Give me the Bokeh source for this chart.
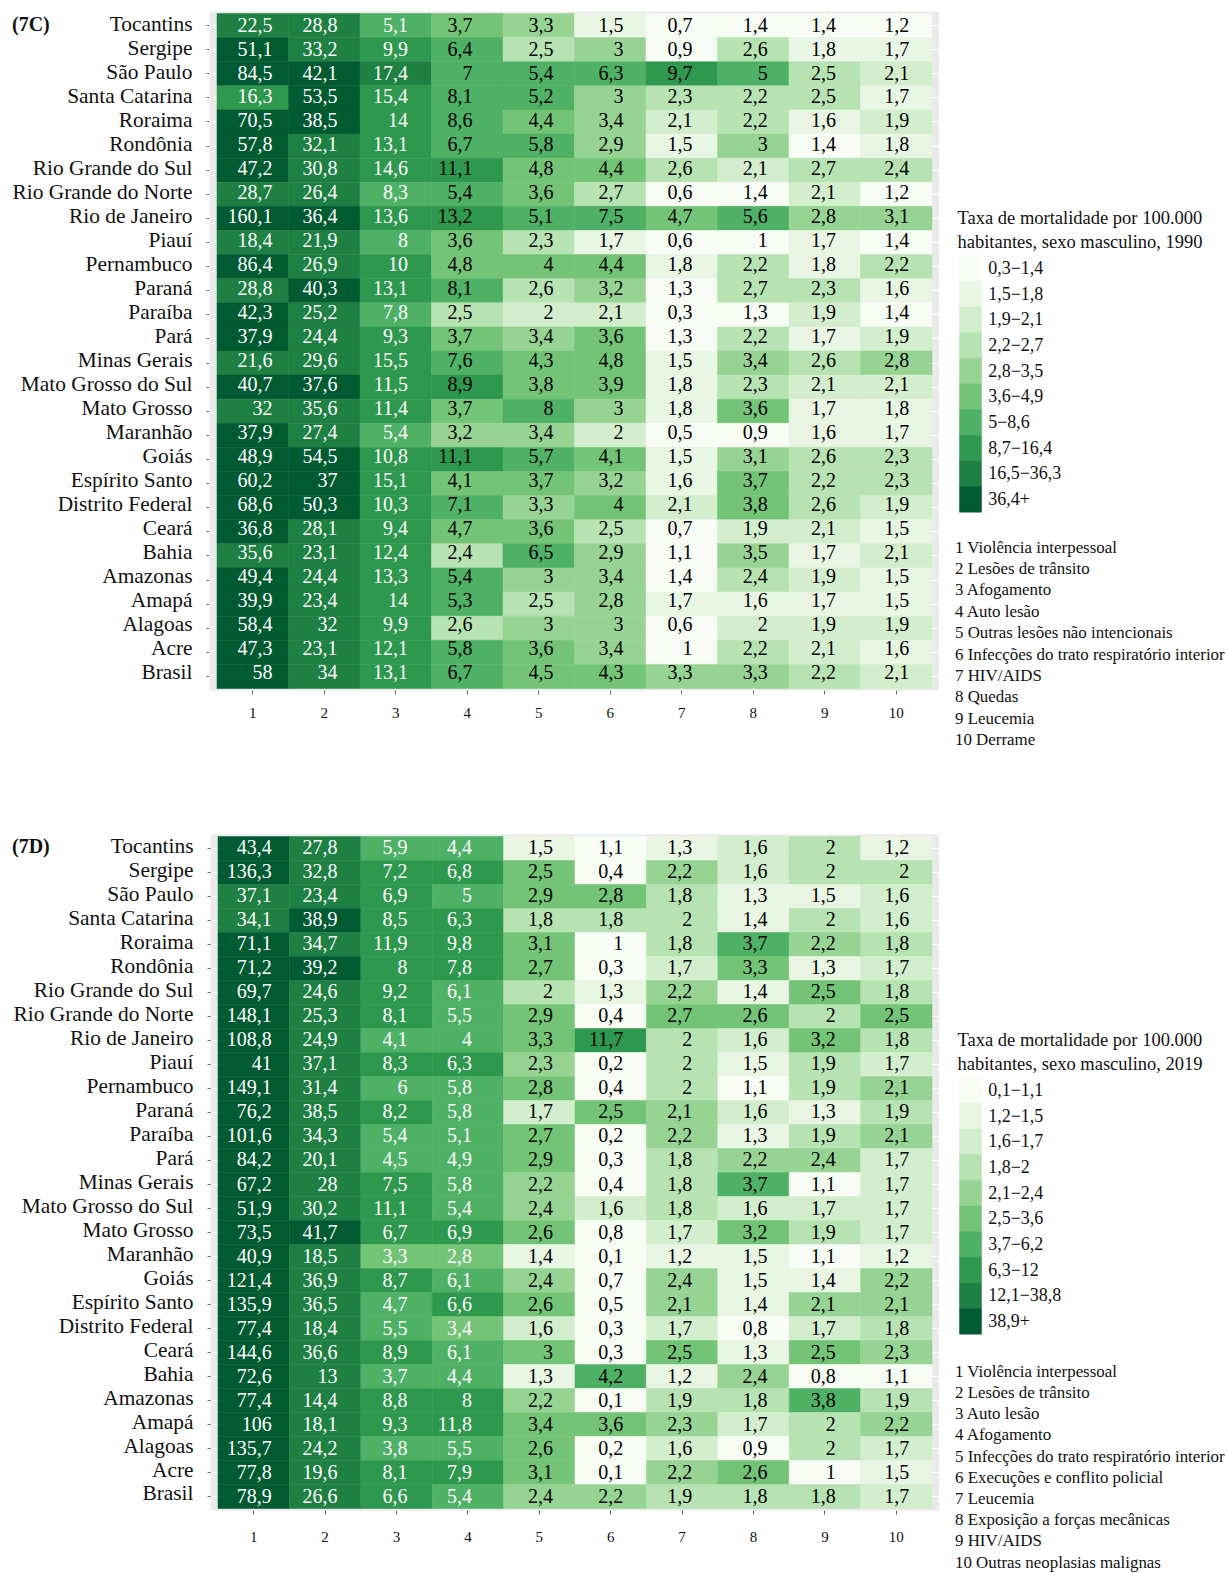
from bokeh.plotting import figure
from bokeh.layouts import column, row
from bokeh.models import ColumnDataSource, FactorRange, FixedTicker, Range1d
from bokeh.core.properties import value
from bokeh.embed import file_html
from bokeh.resources import INLINE
import numpy as np
import pandas as pd

FONT = "Liberation Serif"
INK = "#111111"

states = ["Tocantins", "Sergipe", "São Paulo", "Santa Catarina", "Roraima", "Rondônia",
          "Rio Grande do Sul", "Rio Grande do Norte", "Rio de Janeiro", "Piauí", "Pernambuco",
          "Paraná", "Paraíba", "Pará", "Minas Gerais", "Mato Grosso do Sul", "Mato Grosso",
          "Maranhão", "Goiás", "Espírito Santo", "Distrito Federal", "Ceará", "Bahia",
          "Amazonas", "Amapá", "Alagoas", "Acre", "Brasil"]
columns = [str(i) for i in range(1, 11)]

# values by state, same order as states
rates_1990 = [
    [22.5, 28.8, 5.1, 3.7, 3.3, 1.5, 0.7, 1.4, 1.4, 1.2],
    [51.1, 33.2, 9.9, 6.4, 2.5, 3, 0.9, 2.6, 1.8, 1.7],
    [84.5, 42.1, 17.4, 7, 5.4, 6.3, 9.7, 5, 2.5, 2.1],
    [16.3, 53.5, 15.4, 8.1, 5.2, 3, 2.3, 2.2, 2.5, 1.7],
    [70.5, 38.5, 14, 8.6, 4.4, 3.4, 2.1, 2.2, 1.6, 1.9],
    [57.8, 32.1, 13.1, 6.7, 5.8, 2.9, 1.5, 3, 1.4, 1.8],
    [47.2, 30.8, 14.6, 11.1, 4.8, 4.4, 2.6, 2.1, 2.7, 2.4],
    [28.7, 26.4, 8.3, 5.4, 3.6, 2.7, 0.6, 1.4, 2.1, 1.2],
    [160.1, 36.4, 13.6, 13.2, 5.1, 7.5, 4.7, 5.6, 2.8, 3.1],
    [18.4, 21.9, 8, 3.6, 2.3, 1.7, 0.6, 1, 1.7, 1.4],
    [86.4, 26.9, 10, 4.8, 4, 4.4, 1.8, 2.2, 1.8, 2.2],
    [28.8, 40.3, 13.1, 8.1, 2.6, 3.2, 1.3, 2.7, 2.3, 1.6],
    [42.3, 25.2, 7.8, 2.5, 2, 2.1, 0.3, 1.3, 1.9, 1.4],
    [37.9, 24.4, 9.3, 3.7, 3.4, 3.6, 1.3, 2.2, 1.7, 1.9],
    [21.6, 29.6, 15.5, 7.6, 4.3, 4.8, 1.5, 3.4, 2.6, 2.8],
    [40.7, 37.6, 11.5, 8.9, 3.8, 3.9, 1.8, 2.3, 2.1, 2.1],
    [32, 35.6, 11.4, 3.7, 8, 3, 1.8, 3.6, 1.7, 1.8],
    [37.9, 27.4, 5.4, 3.2, 3.4, 2, 0.5, 0.9, 1.6, 1.7],
    [48.9, 54.5, 10.8, 11.1, 5.7, 4.1, 1.5, 3.1, 2.6, 2.3],
    [60.2, 37, 15.1, 4.1, 3.7, 3.2, 1.6, 3.7, 2.2, 2.3],
    [68.6, 50.3, 10.3, 7.1, 3.3, 4, 2.1, 3.8, 2.6, 1.9],
    [36.8, 28.1, 9.4, 4.7, 3.6, 2.5, 0.7, 1.9, 2.1, 1.5],
    [35.6, 23.1, 12.4, 2.4, 6.5, 2.9, 1.1, 3.5, 1.7, 2.1],
    [49.4, 24.4, 13.3, 5.4, 3, 3.4, 1.4, 2.4, 1.9, 1.5],
    [39.9, 23.4, 14, 5.3, 2.5, 2.8, 1.7, 1.6, 1.7, 1.5],
    [58.4, 32, 9.9, 2.6, 3, 3, 0.6, 2, 1.9, 1.9],
    [47.3, 23.1, 12.1, 5.8, 3.6, 3.4, 1, 2.2, 2.1, 1.6],
    [58, 34, 13.1, 6.7, 4.5, 4.3, 3.3, 3.3, 2.2, 2.1],
]
rates_2019 = [
    [43.4, 27.8, 5.9, 4.4, 1.5, 1.1, 1.3, 1.6, 2, 1.2],
    [136.3, 32.8, 7.2, 6.8, 2.5, 0.4, 2.2, 1.6, 2, 2],
    [37.1, 23.4, 6.9, 5, 2.9, 2.8, 1.8, 1.3, 1.5, 1.6],
    [34.1, 38.9, 8.5, 6.3, 1.8, 1.8, 2, 1.4, 2, 1.6],
    [71.1, 34.7, 11.9, 9.8, 3.1, 1, 1.8, 3.7, 2.2, 1.8],
    [71.2, 39.2, 8, 7.8, 2.7, 0.3, 1.7, 3.3, 1.3, 1.7],
    [69.7, 24.6, 9.2, 6.1, 2, 1.3, 2.2, 1.4, 2.5, 1.8],
    [148.1, 25.3, 8.1, 5.5, 2.9, 0.4, 2.7, 2.6, 2, 2.5],
    [108.8, 24.9, 4.1, 4, 3.3, 11.7, 2, 1.6, 3.2, 1.8],
    [41, 37.1, 8.3, 6.3, 2.3, 0.2, 2, 1.5, 1.9, 1.7],
    [149.1, 31.4, 6, 5.8, 2.8, 0.4, 2, 1.1, 1.9, 2.1],
    [76.2, 38.5, 8.2, 5.8, 1.7, 2.5, 2.1, 1.6, 1.3, 1.9],
    [101.6, 34.3, 5.4, 5.1, 2.7, 0.2, 2.2, 1.3, 1.9, 2.1],
    [84.2, 20.1, 4.5, 4.9, 2.9, 0.3, 1.8, 2.2, 2.4, 1.7],
    [67.2, 28, 7.5, 5.8, 2.2, 0.4, 1.8, 3.7, 1.1, 1.7],
    [51.9, 30.2, 11.1, 5.4, 2.4, 1.6, 1.8, 1.6, 1.7, 1.7],
    [73.5, 41.7, 6.7, 6.9, 2.6, 0.8, 1.7, 3.2, 1.9, 1.7],
    [40.9, 18.5, 3.3, 2.8, 1.4, 0.1, 1.2, 1.5, 1.1, 1.2],
    [121.4, 36.9, 8.7, 6.1, 2.4, 0.7, 2.4, 1.5, 1.4, 2.2],
    [135.9, 36.5, 4.7, 6.6, 2.6, 0.5, 2.1, 1.4, 2.1, 2.1],
    [77.4, 18.4, 5.5, 3.4, 1.6, 0.3, 1.7, 0.8, 1.7, 1.8],
    [144.6, 36.6, 8.9, 6.1, 3, 0.3, 2.5, 1.3, 2.5, 2.3],
    [72.6, 13, 3.7, 4.4, 1.3, 4.2, 1.2, 2.4, 0.8, 1.1],
    [77.4, 14.4, 8.8, 8, 2.2, 0.1, 1.9, 1.8, 3.8, 1.9],
    [106, 18.1, 9.3, 11.8, 3.4, 3.6, 2.3, 1.7, 2, 2.2],
    [135.7, 24.2, 3.8, 5.5, 2.6, 0.2, 1.6, 0.9, 2, 1.7],
    [77.8, 19.6, 8.1, 7.9, 3.1, 0.1, 2.2, 2.6, 1, 1.5],
    [78.9, 26.6, 6.6, 5.4, 2.4, 2.2, 1.9, 1.8, 1.8, 1.7],
]

# lower edge of each colour class and its legend text
bins_1990 = [0.3, 1.5, 1.9, 2.2, 2.8, 3.6, 5, 8.7, 16.5, 36.4]
labels_1990 = ["0,3−1,4", "1,5−1,8", "1,9−2,1", "2,2−2,7", "2,8−3,5", "3,6−4,9",
               "5−8,6", "8,7−16,4", "16,5−36,3", "36,4+"]
bins_2019 = [0.1, 1.2, 1.6, 1.8, 2.1, 2.5, 3.7, 6.3, 12.1, 38.9]
labels_2019 = ["0,1−1,1", "1,2−1,5", "1,6−1,7", "1,8−2", "2,1−2,4", "2,5−3,6",
               "3,7−6,2", "6,3−12", "12,1−38,8", "38,9+"]
greens = ["#F7FCF5", "#E8F6E3", "#D3EECD", "#B7E2B1", "#97D494", "#73C476",
          "#4EB166", "#2F984F", "#1E8042", "#005A32"]

causes_1990 = ["1 Violência interpessoal", "2 Lesões de trânsito", "3 Afogamento", "4 Auto lesão",
               "5 Outras lesões não intencionais", "6 Infecções do trato respiratório interior",
               "7 HIV/AIDS", "8 Quedas", "9 Leucemia", "10 Derrame"]
causes_2019 = ["1 Violência interpessoal", "2 Lesões de trânsito", "3 Auto lesão", "4 Afogamento",
               "5 Infecções do trato respiratório interior", "6 Execuções e conflito policial",
               "7 Leucemia", "8 Exposição a forças mecânicas", "9 HIV/AIDS", "10 Outras neoplasias malignas"]

# numbers in the cells are right aligned, a bit differently in each column
shift_1990 = [19.7, 13.2, 12.3, 5.3, 14.8, 13.3, 10.8, 14.4, 11.2, 13]
shift_2019 = [18, 12.3, 11, 4.1, 13.8, 12.5, 10.2, 13.9, 10.9, 12.9]

N = len(states)


def name_column(tag, width, right, height, top, frame_h, name_range):
    # state names and panel tag: they share the space left of the map, the names run a little tighter than the rows
    p = figure(x_range=Range1d(0, width), y_range=Range1d(*name_range), x_axis_location=None, y_axis_location=None,
               width=width, height=height, output_backend="svg", toolbar_location=None,
               min_border_left=0, min_border_right=0, min_border_top=top,
               min_border_bottom=height - top - frame_h)
    p.outline_line_color = None
    p.grid.visible = False
    p.text([right] * N, list(range(N - 1, -1, -1)), text=states, text_color=INK, text_align="right",
           text_baseline="middle", text_font=value(FONT), text_font_size="21.4px")
    p.text([11.5], [N - 1], text=[tag], text_color=INK, text_baseline="middle", text_font=value(FONT),
           text_font_size="20px", text_font_style="bold")
    return p


def heatmap(rates, bins, shift, white_cols, height, top, frame_w, frame_h, row_drift, x_standoff):
    df = pd.DataFrame(rates, index=states, columns=columns).reset_index(names="state")
    df["row"] = range(N)
    df = df.melt(id_vars=["state", "row"], var_name="cause", value_name="rate")
    df["pos"] = N - 1 - df["row"]
    df["color"] = [greens[i] for i in np.searchsorted(bins, df["rate"], side="right") - 1]
    df["txt"] = [f"{v:g}".replace(".", ",") for v in df["rate"]]
    df["col"] = df["cause"].astype(int) - 1
    df["ink"] = np.where(df["col"] < white_cols, "white", "black")
    df["shift"] = [shift[i] for i in df["col"]]
    df["lift"] = -1 - row_drift * df["row"]
    source = ColumnDataSource(df.drop(columns=["col", "row"]))

    p = figure(x_range=FactorRange(factors=columns, range_padding=0.105, range_padding_units="absolute"),
               y_range=Range1d(-0.583, N - 1 + 0.583),
               width=3 + frame_w, height=height, output_backend="svg", toolbar_location=None,
               min_border_left=3, min_border_top=top, min_border_right=0,
               min_border_bottom=height - top - frame_h)
    p.background_fill_color = "#EAEAEA"
    p.outline_line_color = None
    p.grid.grid_line_color = "white"
    p.grid.grid_line_width = 1

    p.rect("cause", "pos", width=1, height=1, source=source, fill_color="color",
           line_color="color", line_width=0.5)
    p.text("cause", "pos", text="txt", source=source, x_offset="shift", y_offset="lift", text_color="ink",
           text_align="right", text_baseline="middle", text_font=value(FONT), text_font_size="20px")

    p.axis.axis_line_color = None
    p.axis.major_tick_in = 0
    p.axis.major_tick_line_color = "#666666"
    p.xaxis.major_label_text_font = FONT
    p.xaxis.major_label_text_color = INK
    p.xaxis.major_tick_out = 4
    p.xaxis.major_label_standoff = x_standoff
    p.xaxis.major_label_text_font_size = "15px"

    row_ticks = FixedTicker(ticks=list(range(N)))
    p.yaxis.ticker = row_ticks
    p.ygrid.ticker = row_ticks
    p.yaxis.minor_tick_line_color = None
    p.yaxis.major_tick_out = 3
    p.yaxis.major_label_standoff = 0
    p.yaxis.major_label_overrides = {i: "" for i in range(N)}
    return p


def key(labels, title, causes, height, top, title_y, list_y, list_step):
    # whole figure is one frame here, its scales count pixels from the top left
    p = figure(x_range=Range1d(0, 288), y_range=Range1d(height, 0), x_axis_location=None, y_axis_location=None,
               width=288, height=height, output_backend="svg", toolbar_location=None,
               min_border_left=0, min_border_right=0, min_border_top=0, min_border_bottom=0)
    p.outline_line_color = None
    p.grid.visible = False

    step = 25.67
    mids = [top + (i + 0.5) * step for i in range(len(labels))]
    p.rect([31] * len(labels), mids, width=22, height=step, fill_color=greens, line_color=greens, line_width=0.5)
    p.text([48.7] * len(labels), [m - 1 for m in mids], text=labels, text_color=INK, text_baseline="middle",
           text_font=value(FONT), text_font_size="18px")
    p.text([18, 18], [y - 1 for y in title_y], text=title, text_color=INK, text_baseline="middle",
           text_font=value(FONT), text_font_size="18.5px")
    p.text([15.5] * len(causes), [list_y - 1 + i * list_step for i in range(len(causes))], text=causes,
           text_color=INK, text_baseline="middle", text_font=value(FONT), text_font_size="16.9px")
    return p


def panel(rates, bins, shift, white_cols, tag, height, top, names_w, name_right, frame_w, frame_h, row_drift,
          name_range, x_standoff, labels, title, causes, key_top, title_y, list_y, list_step):
    # each part in its own column so the row does not line their frames up
    return row(column(name_column(tag, names_w, name_right, height, top, frame_h, name_range)),
               column(heatmap(rates, bins, shift, white_cols, height, top, frame_w, frame_h, row_drift, x_standoff)),
               column(key(labels, title, causes, height, key_top, title_y, list_y, list_step)), spacing=0)


top_panel = panel(rates_1990, bins_1990, shift_1990, 3, "(7C)", 815, 11, 206, 192, 730, 679, 0.13,
                  (-0.78, 27.54), 13, labels_1990,
                  ["Taxa de mortalidade por 100.000", "habitantes, sexo masculino, 1990"], causes_1990,
                  255, [218, 242.7], 547.5, 21.4)
bottom_panel = panel(rates_2019, bins_2019, shift_2019, 4, "(7D)", 758, 19, 207, 193, 729, 676, 0,
                     (-0.71, 27.49), 17, labels_2019,
                     ["Taxa de mortalidade por 100.000", "habitantes, sexo masculino, 2019"], causes_2019,
                     262, [225.3, 249.4], 556.7, 21.2)

page = column(top_panel, bottom_panel, spacing=0)
open("out.html", "w").write(file_html(page, INLINE))
